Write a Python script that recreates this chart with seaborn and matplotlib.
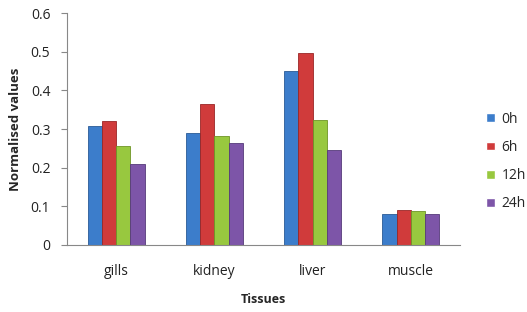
import matplotlib
matplotlib.use("Agg")
import matplotlib.pyplot as plt
import pandas as pd
import seaborn as sns

tissues = ["gills", "kidney", "liver", "muscle"]
times = ["0h", "6h", "12h", "24h"]
val_0h = [0.309, 0.289, 0.450, 0.079]
val_6h = [0.322, 0.366, 0.496, 0.090]
val_12h = [0.257, 0.282, 0.323, 0.089]
val_24h = [0.209, 0.265, 0.246, 0.079]

COLORS = ["#3C7DCB", "#D03B3B", "#98C83F", "#7D55A8"]
EDGES = ["#2A5A96", "#9A2626", "#6E9526", "#563A7A"]

df = pd.DataFrame(
    {
        "tissue": tissues * 4,
        "time": [t for t in times for _ in tissues],
        "value": val_0h + val_6h + val_12h + val_24h,
    }
)

sns.set_theme(style="white")
plt.rcParams["font.family"] = ["Open Sans", "DejaVu Sans"]

fig = plt.figure(figsize=(5.27, 3.12), dpi=100)
ax = fig.add_axes([0.127, 0.215, 0.746, 0.743])

sns.barplot(
    data=df,
    x="tissue",
    y="value",
    hue="time",
    order=tissues,
    hue_order=times,
    palette=COLORS,
    width=0.58,
    gap=0,
    saturation=1,
    errorbar=None,
    ax=ax,
)

for container, edge in zip(ax.containers, EDGES):
    for bar in container:
        bar.set_edgecolor(edge)
        bar.set_linewidth(0.6)

ax.set_ylim(0, 0.6)
ax.set_yticks([0, 0.1, 0.2, 0.3, 0.4, 0.5, 0.6])
ax.set_yticklabels(["0", "0.1", "0.2", "0.3", "0.4", "0.5", "0.6"])
ax.set_xlim(-0.5, 3.5)
ax.tick_params(axis="y", length=4, color="#888888", labelsize=10, pad=8, left=True, width=0.8)
ax.tick_params(axis="x", length=0, labelsize=10, pad=14)
for tick in ax.get_yticklabels() + ax.get_xticklabels():
    tick.set_color("#222222")

sns.despine(ax=ax)
ax.spines["left"].set_color("#888888")
ax.spines["bottom"].set_color("#888888")
ax.spines["left"].set_linewidth(0.8)
ax.spines["bottom"].set_linewidth(0.8)

ax.set_xlabel("Tissues", fontsize=9, fontweight="bold", labelpad=10)
ax.set_ylabel("Normalised values", fontsize=9.5, fontweight="bold", labelpad=6)

ax.legend(
    loc="center left",
    bbox_to_anchor=(1.035, 0.36),
    frameon=False,
    fontsize=10,
    handlelength=0.6,
    handleheight=0.6,
    handletextpad=0.5,
    labelspacing=0.95,
)

fig.savefig("out.png", dpi=100, facecolor="white")
